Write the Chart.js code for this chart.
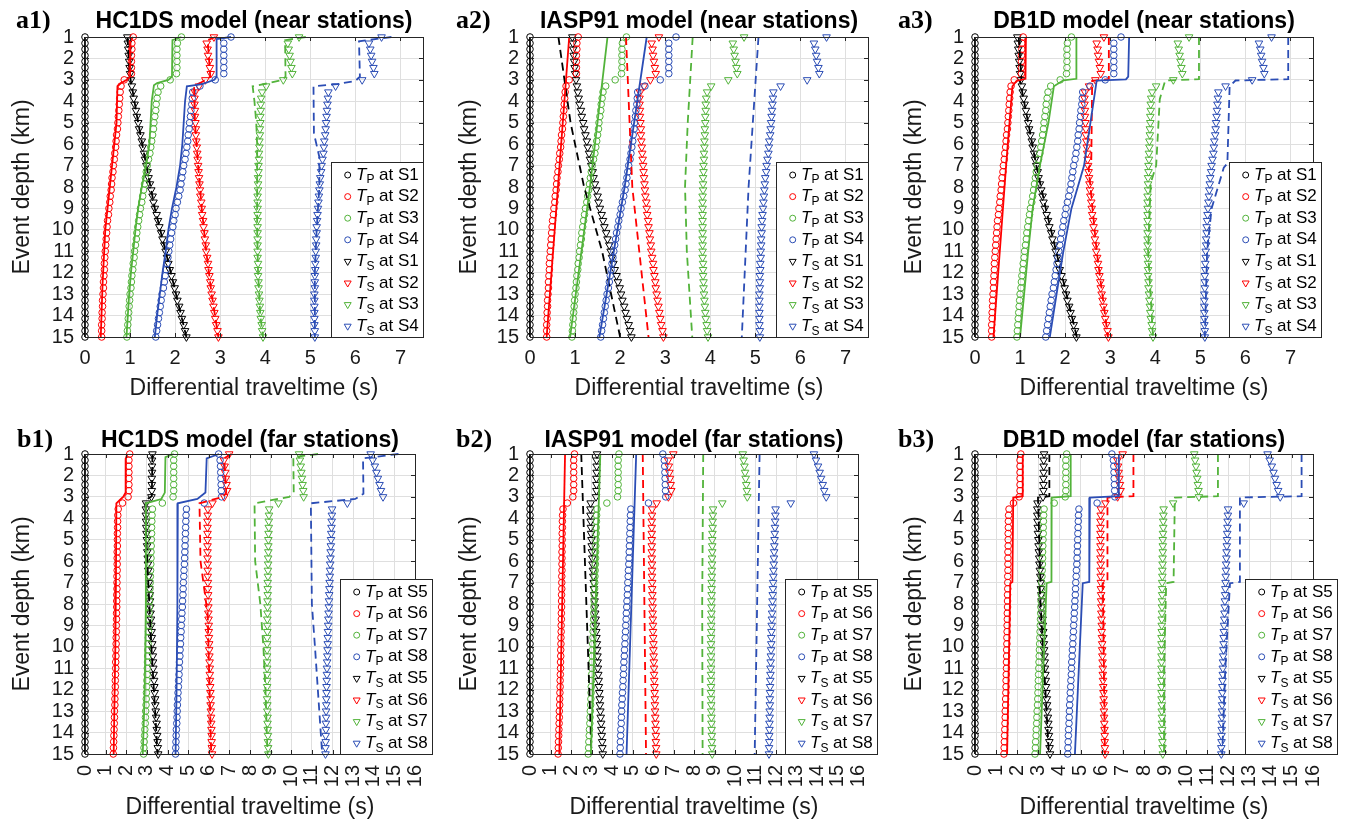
<!DOCTYPE html>
<html>
<head>
<meta charset="utf-8">
<script src="https://cdn.jsdelivr.net/npm/chart.js@4.4.0/dist/chart.umd.min.js"></script>
<style>
body { margin:0; background:#fff; width:1352px; height:821px; position:relative; overflow:hidden; }
canvas { position:absolute; }
</style>
</head>
<body>
<canvas id="a1" width="450" height="410" style="left:0px;top:0px"></canvas>
<canvas id="a2" width="443" height="410" style="left:450px;top:0px"></canvas>
<canvas id="a3" width="459" height="410" style="left:893px;top:0px"></canvas>
<canvas id="b1" width="450" height="411" style="left:0px;top:410px"></canvas>
<canvas id="b2" width="443" height="411" style="left:450px;top:410px"></canvas>
<canvas id="b3" width="459" height="411" style="left:893px;top:410px"></canvas>
<script>
// event depths (km) of the synthetic events
var depthKm = [1, 1.29, 1.57, 1.86, 2.14, 2.43, 2.71, 3, 3.29, 3.57, 3.86, 4.14, 4.43, 4.71, 5, 5.29, 5.57, 5.86, 6.14, 6.43,
  6.71, 7, 7.29, 7.57, 7.86, 8.14, 8.43, 8.71, 9, 9.29, 9.57, 9.86, 10.14, 10.43, 10.71, 11, 11.29, 11.57, 11.86, 12.14,
  12.43, 12.71, 13, 13.29, 13.57, 13.86, 14.14, 14.43, 14.71, 15];

var yTicks = [1,2,3,4,5,6,7,8,9,10,11,12,13,14,15];
var xTicksNear = [0,1,2,3,4,5,6,7];
var xTicksFar = [0,1,2,3,4,5,6,7,8,9,10,11,12,13,14,15,16];
var nearStations = ['S1','S2','S3','S4'];
var farStations = ['S5','S6','S7','S8'];

// observed differential traveltimes, near stations (s)
var nearTP1 = [0,0,0,0,0,0,0,0,0,0,0,0,0,0,0,0,0,0,0,0,0,0,0,0,0,0,0,0,0,0,0,0,0,0,0,0,0,0,0,0,0,0,0,0,0,0,0,0,0,0];
var nearTP2 = [1.07,1.04,1.04,1.03,1.03,1.03,1.03,0.87,0.80,0.78,0.77,0.76,0.75,0.74,0.73,0.72,0.70,0.69,0.68,0.66,
  0.65,0.63,0.62,0.60,0.59,0.58,0.56,0.55,0.53,0.52,0.50,0.49,0.48,0.47,0.46,0.45,0.44,0.43,0.43,0.42,
  0.41,0.41,0.40,0.39,0.39,0.38,0.38,0.37,0.37,0.37];
var nearTP3 = [2.14,2.05,2.04,2.04,2.04,2.04,2.03,1.89,1.68,1.62,1.60,1.58,1.57,1.55,1.53,1.52,1.50,1.48,1.46,1.44,
  1.41,1.38,1.36,1.34,1.32,1.30,1.28,1.26,1.23,1.21,1.19,1.17,1.15,1.14,1.12,1.10,1.09,1.07,1.06,1.04,
  1.03,1.02,1.00,0.99,0.98,0.97,0.96,0.95,0.94,0.93];
var nearTP4 = [3.24,3.08,3.08,3.08,3.08,3.08,3.08,2.89,2.55,2.39,2.38,2.37,2.35,2.34,2.32,2.31,2.29,2.28,2.26,2.24,
  2.22,2.19,2.17,2.15,2.13,2.11,2.08,2.05,2.02,2.00,1.97,1.95,1.92,1.90,1.88,1.86,1.84,1.82,1.80,1.78,
  1.76,1.74,1.71,1.69,1.67,1.65,1.63,1.61,1.59,1.57];
var nearTS1 = [0.94,0.95,0.96,0.97,0.98,0.99,1.00,1.02,1.04,1.06,1.08,1.10,1.13,1.15,1.18,1.20,1.23,1.26,1.28,1.31,
  1.33,1.36,1.39,1.41,1.44,1.47,1.50,1.52,1.55,1.59,1.62,1.65,1.69,1.72,1.76,1.79,1.82,1.85,1.88,1.92,
  1.95,1.99,2.02,2.05,2.09,2.12,2.15,2.19,2.22,2.25];
var nearTS2 = [2.86,2.70,2.72,2.73,2.75,2.77,2.79,2.67,2.53,2.44,2.43,2.43,2.44,2.44,2.45,2.46,2.46,2.47,2.48,2.49,
  2.50,2.51,2.52,2.53,2.54,2.55,2.56,2.58,2.59,2.60,2.62,2.63,2.65,2.66,2.68,2.69,2.71,2.73,2.74,2.76,
  2.78,2.79,2.81,2.83,2.85,2.87,2.89,2.91,2.94,2.96];
var nearTS3 = [4.75,4.50,4.52,4.54,4.56,4.58,4.60,4.40,4.02,3.93,3.91,3.90,3.90,3.89,3.89,3.88,3.88,3.87,3.87,3.86,
  3.86,3.85,3.85,3.84,3.84,3.84,3.83,3.83,3.83,3.83,3.83,3.83,3.83,3.83,3.83,3.83,3.83,3.84,3.84,3.84,
  3.85,3.85,3.86,3.87,3.88,3.89,3.90,3.92,3.93,3.95];
var nearTS4 = [6.58,6.30,6.33,6.35,6.37,6.40,6.42,6.15,5.56,5.40,5.39,5.38,5.37,5.36,5.35,5.34,5.33,5.31,5.30,5.29,
  5.27,5.25,5.24,5.22,5.21,5.20,5.19,5.18,5.17,5.16,5.15,5.14,5.14,5.13,5.13,5.12,5.12,5.11,5.11,5.10,
  5.10,5.10,5.09,5.09,5.09,5.09,5.09,5.09,5.10,5.10];

// observed differential traveltimes, far stations (s)
var farTP5 = [0,0,0,0,0,0,0,0,0,0,0,0,0,0,0,0,0,0,0,0,0,0,0,0,0,0,0,0,0,0,0,0,0,0,0,0,0,0,0,0,0,0,0,0,0,0,0,0,0,0];
var farTP6 = [2.17,2.13,2.13,2.13,2.13,2.13,2.13,2.09,1.82,1.61,1.59,1.58,1.58,1.57,1.57,1.57,1.56,1.56,1.56,1.56,
  1.55,1.55,1.55,1.54,1.54,1.54,1.53,1.53,1.52,1.52,1.51,1.51,1.50,1.50,1.49,1.49,1.48,1.47,1.47,1.46,
  1.45,1.45,1.43,1.43,1.42,1.41,1.40,1.39,1.38,1.37];
var farTP7 = [4.34,4.30,4.30,4.30,4.30,4.30,4.30,4.27,3.75,3.27,3.25,3.24,3.23,3.23,3.22,3.21,3.20,3.20,3.19,3.18,
  3.17,3.16,3.15,3.14,3.13,3.12,3.11,3.10,3.09,3.08,3.07,3.06,3.05,3.04,3.03,3.02,3.01,3.00,2.99,2.98,
  2.97,2.96,2.94,2.93,2.92,2.90,2.89,2.87,2.86,2.84];
var farTP8 = [6.48,6.55,6.57,6.58,6.59,6.60,6.61,6.62,5.78,4.92,4.90,4.89,4.88,4.87,4.86,4.85,4.84,4.83,4.82,4.80,
  4.79,4.77,4.76,4.75,4.73,4.72,4.70,4.69,4.67,4.66,4.64,4.63,4.61,4.60,4.58,4.57,4.56,4.54,4.53,4.51,
  4.50,4.48,4.47,4.46,4.45,4.43,4.42,4.41,4.40,4.39];
var farTS5 = [3.27,3.25,3.25,3.25,3.24,3.24,3.24,3.22,2.96,2.95,2.95,2.96,2.97,2.98,3.00,3.01,3.02,3.04,3.05,3.07,
  3.09,3.11,3.12,3.14,3.15,3.17,3.18,3.20,3.21,3.23,3.24,3.26,3.27,3.29,3.30,3.31,3.33,3.35,3.36,3.38,
  3.40,3.41,3.43,3.45,3.47,3.48,3.50,3.52,3.53,3.55];
var farTS6 = [6.99,6.74,6.77,6.80,6.83,6.86,6.89,6.75,6.18,5.96,5.95,5.94,5.94,5.94,5.94,5.94,5.94,5.94,5.95,5.95,
  5.95,5.96,5.96,5.97,5.97,5.98,5.98,5.99,6.00,6.00,6.01,6.02,6.02,6.03,6.04,6.05,6.05,6.06,6.07,6.08,
  6.09,6.09,6.10,6.11,6.12,6.13,6.14,6.14,6.15,6.16];
var farTS7 = [10.38,10.42,10.46,10.49,10.52,10.55,10.58,10.60,9.38,8.93,8.92,8.91,8.91,8.90,8.89,8.89,8.89,8.88,8.88,8.87,
  8.87,8.86,8.86,8.86,8.85,8.85,8.85,8.84,8.84,8.84,8.83,8.83,8.83,8.83,8.83,8.83,8.83,8.83,8.83,8.83,
  8.83,8.84,8.84,8.85,8.85,8.86,8.87,8.87,8.88,8.89];
var farTS8 = [13.85,13.95,14.05,14.13,14.20,14.28,14.35,14.45,12.72,11.98,11.97,11.96,11.95,11.94,11.93,11.92,11.91,11.90,11.89,11.88,
  11.87,11.86,11.85,11.84,11.83,11.82,11.81,11.80,11.79,11.78,11.77,11.77,11.76,11.75,11.74,11.73,11.73,11.72,11.71,11.71,
  11.70,11.70,11.69,11.69,11.68,11.68,11.67,11.67,11.66,11.66];

// model curves, [traveltime (s), depth (km)]
var hcNearP = [
  [[0,1],[0,15]],
  [[1.07,1],[1.01,1.15],[1.0,2.85],[0.93,3.0],[0.80,3.15],[0.72,3.3],[0.70,5],[0.60,7],[0.45,10],[0.39,12.5],[0.35,15]],
  [[2.14,1],[1.94,1.15],[1.93,2.85],[1.85,3.0],[1.6,3.15],[1.53,3.25],[1.48,4],[1.43,6],[1.34,7.2],[1.26,8],[1.18,9],[1.12,10],[1.07,11],[1.02,12],[0.98,13],[0.95,14],[0.92,15]],
  [[3.24,1],[2.92,1.1],[2.92,2.85],[2.87,3.0],[2.6,3.2],[2.26,3.3],[2.22,4],[2.16,6],[2.11,7],[2.03,8],[1.93,9],[1.85,10],[1.79,11],[1.72,12],[1.66,13],[1.6,14],[1.55,15]]
];
var hcNearS = [
  [[0.94,1],[1.0,2.85],[1.03,3.2],[1.18,5],[1.36,7],[1.55,9],[1.79,11],[2.02,13],[2.25,15]],
  [[2.9,1],[2.72,1.15],[2.78,2.85],[2.68,3.0],[2.42,3.3],[2.44,5],[2.51,7],[2.59,9],[2.69,11],[2.81,13],[2.96,15]],
  [[4.9,1],[4.44,1.15],[4.45,2.85],[4.38,3.0],[4.08,3.15],[3.72,3.3],[3.76,4],[3.80,5],[3.82,6],[3.82,8],[3.82,10],[3.84,12],[3.89,14],[3.95,15]],
  [[6.8,1],[6.08,1.2],[6.1,2.85],[6.0,3.05],[5.6,3.2],[5.07,3.3],[5.08,5.5],[5.2,6.6],[5.2,8],[5.14,10],[5.1,12],[5.1,15]]
];
var iaNearP = [
  [[0,1],[0,15]],
  [[0.87,1],[0.37,15]],
  [[1.72,1],[1.33,8],[0.89,15]],
  [[2.59,1],[2.10,8],[1.54,15]]
];
var iaNearS = [
  [[0.63,1],[0.9,5],[1.2,8],[1.6,11],[2.0,15]],
  [[2.13,1],[2.27,8],[2.63,15]],
  [[3.61,1],[3.5,5],[3.44,8],[3.48,11],[3.6,15]],
  [[5.07,1],[4.85,8],[4.7,15]]
];
var dbNearP = [
  [[0,1],[0,15]],
  [[1.13,1],[1.12,2.95],[0.92,3.05],[0.83,3.3],[0.69,7],[0.41,15]],
  [[2.25,1],[2.25,2.95],[1.96,3.02],[1.75,3.3],[1.63,5],[1.44,7],[1.28,9],[1.18,11],[1.09,13],[1.0,15]],
  [[3.42,1],[3.40,2.85],[3.35,2.98],[2.70,3.03],[2.42,7],[2.14,9],[1.96,11],[1.81,13],[1.66,15]]
];
var dbNearS = [
  [[0.97,1],[1.03,2.95],[1.0,3.05],[1.18,5],[1.36,7],[1.57,9],[1.8,11],[2.03,13],[2.26,15]],
  [[2.97,1],[2.97,2.97],[2.6,3.05],[2.58,6.9],[2.52,7.1],[2.7,11],[2.95,15]],
  [[4.97,1],[4.97,2.97],[4.22,3.03],[4.1,3.9],[4.02,7],[3.9,7.8],[3.84,11],[3.95,15]],
  [[6.95,1],[6.95,2.97],[5.78,3.03],[5.65,3.3],[5.6,6.9],[5.52,7.1],[5.25,9],[5.15,11],[5.1,15]]
];
var hcFarP = [
  [[0,1],[0,15]],
  [[2.05,1],[1.98,1.2],[1.97,2.8],[1.85,3.0],[1.74,3.1],[1.52,3.3],[1.5,7],[1.47,10],[1.39,15]],
  [[4.3,1],[3.9,1.15],[3.87,2.8],[3.7,3.1],[2.95,3.3],[2.95,8],[2.9,12],[2.8,15]],
  [[6.5,1],[5.9,1.2],[5.84,2.8],[5.45,3.1],[4.5,3.3],[4.48,8],[4.44,12],[4.39,15]]
];
var hcFarS = [
  [[3.27,1],[3.24,2.97],[2.93,3.15],[2.97,5],[3.22,10],[3.52,15]],
  [[7.1,1],[6.75,1.2],[6.85,2.8],[6.7,3.0],[5.55,3.3],[5.6,6],[5.95,8.5],[6.12,15]],
  [[11.3,1],[10.1,1.15],[10.12,2.8],[9.9,3.0],[8.22,3.3],[8.25,6],[8.5,8],[8.65,10],[8.75,12],[8.85,15]],
  [[15.2,1],[13.48,1.2],[13.5,2.85],[13.1,3.1],[10.95,3.3],[11.0,8],[11.15,10],[11.5,15]]
];
var iaFarP = [
  [[0,1],[0,15]],
  [[1.71,1],[1.43,15]],
  [[3.43,1],[2.97,15]],
  [[5.18,1],[4.71,15]]
];
var iaFarS = [
  [[2.5,1],[3.0,15]],
  [[5.5,1],[5.66,15]],
  [[8.45,1],[8.4,8],[8.42,15]],
  [[11.2,1],[10.96,15]]
];
var dbFarP = [
  [[0,1],[0,15]],
  [[2.26,1],[2.26,2.97],[1.81,3.03],[1.77,6.97],[1.67,7.03],[1.52,15]],
  [[4.53,1],[4.53,2.97],[3.63,3.03],[3.62,6.97],[3.39,7.03],[3.08,15]],
  [[6.81,1],[6.81,2.97],[5.44,3.03],[5.41,6.97],[5.1,7.03],[4.73,15]]
];
var dbFarS = [
  [[3.52,1],[3.52,2.97],[2.98,3.03],[3.1,6.97],[3.05,7.03],[3.5,15]],
  [[7.5,1],[7.5,2.97],[6.27,3.03],[6.27,6.97],[6.05,7.03],[6.15,15]],
  [[11.5,1],[11.5,2.97],[9.46,3.03],[9.4,6.97],[9.05,7.03],[8.95,11],[8.95,15]],
  [[15.46,1],[15.46,2.97],[12.54,3.03],[12.54,6.97],[12.07,7.03],[11.85,11],[11.7,15]]
];

var colors = ['#000000', '#ff0000', '#52b33a', '#2b4db5'];
var FONT = '"Liberation Sans", Arial, Helvetica, sans-serif';
var ink = '#1a1a1a';

var nearObsP = [nearTP1, nearTP2, nearTP3, nearTP4];
var nearObsS = [nearTS1, nearTS2, nearTS3, nearTS4];
var farObsP = [farTP5, farTP6, farTP7, farTP8];
var farObsS = [farTS5, farTS6, farTS7, farTS8];

var panels = [
  {id:'a1', label:'a1)', title:'HC1DS model (near stations)', far:false, modP:hcNearP, modS:hcNearS, padL:9, padR:27, legDx:246},
  {id:'a2', label:'a2)', title:'IASP91 model (near stations)', far:false, modP:iaNearP, modS:iaNearS, padL:6, padR:25, legDx:246},
  {id:'a3', label:'a3)', title:'DB1D model (near stations)', far:false, modP:dbNearP, modS:dbNearS, padL:8, padR:39, legDx:254},
  {id:'b1', label:'b1)', title:'HC1DS model (far stations)', far:true, modP:hcFarP, modS:hcFarS, padL:9, padR:27, legDx:255},
  {id:'b2', label:'b2)', title:'IASP91 model (far stations)', far:true, modP:iaFarP, modS:iaFarS, padL:6, padR:25, legDx:255},
  {id:'b3', label:'b3)', title:'DB1D model (far stations)', far:true, modP:dbFarP, modS:dbFarS, padL:8, padR:39, legDx:270}
];
var areaLeft = {a1:85, a2:80, a3:82, b1:85, b2:80, b3:82};
var labelX = {a1:16, a2:6, a3:5, b1:17, b2:6, b3:5};

function markerSet(vals, color, style) {
  return {
    data: depthKm.map(function(d, i) { return {x: vals[i], y: d}; }),
    showLine: false, pointStyle: style,
    pointRadius: style === 'circle' ? 3.3 : 4.4,
    pointRotation: style === 'circle' ? 0 : 180,
    pointBorderColor: color, pointBackgroundColor: 'rgba(0,0,0,0)', pointBorderWidth: 1,
    borderColor: color, clip: false, order: 1
  };
}
function curveSet(pts, color, dash) {
  return {
    data: pts.map(function(p) { return {x: p[0], y: p[1]}; }),
    showLine: true, pointRadius: 0, borderColor: color, borderWidth: 1.8,
    borderDash: dash, fill: false, tension: 0, clip: false, order: 0
  };
}

function drawLegendText(ctx, x, y, sub, st) {
  ctx.font = 'italic 17px ' + FONT;
  ctx.fillText('T', x, y);
  var w = ctx.measureText('T').width;
  ctx.font = '12px ' + FONT;
  ctx.fillText(sub, x + w, y + 5);
  w += ctx.measureText(sub).width;
  ctx.font = '17px ' + FONT;
  ctx.fillText(' at ' + st, x + w, y);
}

var decor = {
  id: 'decor',
  afterDatasetsDraw: function(chart) {
    var p = chart.options.plugins.decor;
    var ctx = chart.ctx, a = chart.chartArea;
    var xs = chart.scales.x, ys = chart.scales.y;
    ctx.save();
    // box and inner ticks
    ctx.strokeStyle = '#262626';
    ctx.lineWidth = 1;
    ctx.strokeRect(Math.round(a.left) + 0.5, Math.round(a.top) + 0.5, Math.round(a.right - a.left), Math.round(a.bottom - a.top));
    ctx.beginPath();
    p.xt.forEach(function(v) {
      var px = Math.round(xs.getPixelForValue(v)) + 0.5;
      ctx.moveTo(px, a.top); ctx.lineTo(px, a.top + 4);
      ctx.moveTo(px, a.bottom); ctx.lineTo(px, a.bottom - 4);
    });
    yTicks.forEach(function(v) {
      var py = Math.round(ys.getPixelForValue(v)) + 0.5;
      ctx.moveTo(a.left, py); ctx.lineTo(a.left + 4, py);
      ctx.moveTo(a.right, py); ctx.lineTo(a.right - 4, py);
    });
    ctx.stroke();

    // legend
    var lx = a.left + p.legDx, ly = a.top + 125, lw = 92, lh = a.bottom - ly;
    ctx.fillStyle = '#fff';
    ctx.fillRect(lx, ly, lw, lh);
    ctx.strokeStyle = '#262626';
    ctx.strokeRect(Math.round(lx) + 0.5, Math.round(ly) + 0.5, lw, Math.round(lh));
    ctx.textBaseline = 'middle';
    ctx.textAlign = 'left';
    var rows = [];
    p.st.forEach(function(s, i) { rows.push({sub:'P', st:s, c:colors[i], style:'circle'}); });
    p.st.forEach(function(s, i) { rows.push({sub:'S', st:s, c:colors[i], style:'triangle'}); });
    rows.forEach(function(r, i) {
      var cy = ly + 13 + i * 21.6;
      ctx.strokeStyle = r.c;
      ctx.fillStyle = 'rgba(0,0,0,0)';
      ctx.lineWidth = 1;
      Chart.helpers.drawPoint(ctx, {pointStyle: r.style, rotation: r.style === 'circle' ? 0 : 180,
        radius: r.style === 'circle' ? 3 : 4, borderWidth: 1}, lx + 16.7, cy);
      ctx.fillStyle = '#000';
      drawLegendText(ctx, lx + 25, cy, r.sub, r.st);
    });

    // title and panel label
    ctx.fillStyle = '#000';
    ctx.textBaseline = 'alphabetic';
    ctx.textAlign = 'center';
    ctx.font = 'bold 23px ' + FONT;
    ctx.fillText(p.title, (a.left + a.right) / 2, a.top - p.titleUp);
    ctx.textAlign = 'left';
    ctx.font = 'bold 26px "Liberation Serif", "Times New Roman", serif';
    ctx.fillText(p.label, p.labelX, a.top - p.titleUp);
    ctx.restore();
  }
};

panels.forEach(function(p) {
  var obsP = p.far ? farObsP : nearObsP;
  var obsS = p.far ? farObsS : nearObsS;
  var xt = p.far ? xTicksFar : xTicksNear;
  var xMax = p.far ? 16 : 7.5;
  var datasets = [];
  obsP.forEach(function(v, i) { datasets.push(markerSet(v, colors[i], 'circle')); });
  obsS.forEach(function(v, i) { datasets.push(markerSet(v, colors[i], 'triangle')); });
  p.modP.forEach(function(c, i) { datasets.push(curveSet(c, colors[i], [])); });
  p.modS.forEach(function(c, i) { datasets.push(curveSet(c, colors[i], [8, 5])); });

  var topPad = p.far ? 44 : 37;
  var xAxisH = p.far ? 67 : 65;
  var botPad = p.far ? 0 : 8;
  var yAxisW = areaLeft[p.id] - p.padL;
  var rot = p.far ? 90 : 0;

  new Chart(document.getElementById(p.id), {
    type: 'scatter',
    data: { datasets: datasets },
    options: {
      responsive: false,
      animation: false,
      events: [],
      layout: { padding: { left: p.padL, right: p.padR, top: topPad, bottom: botPad } },
      plugins: {
        legend: { display: false },
        tooltip: { enabled: false },
        decor: { xt: xt, st: p.far ? farStations : nearStations, legDx: p.legDx,
          title: p.title, label: p.label, labelX: labelX[p.id], titleUp: p.far ? 7 : 9 }
      },
      scales: {
        x: {
          type: 'linear', position: 'bottom', min: 0, max: xMax,
          afterBuildTicks: function(s) { s.ticks = xt.map(function(v) { return {value: v}; }); },
          afterFit: function(s) { s.height = xAxisH; },
          grid: { color: '#dfdfdf', drawTicks: false },
          border: { display: false },
          ticks: { font: { size: 20, family: FONT }, color: ink, padding: p.far ? 11 : 9,
            autoSkip: false, minRotation: rot, maxRotation: rot },
          title: { display: true, text: 'Differential traveltime (s)', color: ink,
            font: { size: 23, family: FONT }, padding: 0 }
        },
        y: {
          type: 'linear', position: 'left', min: 1, max: 15, reverse: true,
          afterBuildTicks: function(s) { s.ticks = yTicks.map(function(v) { return {value: v}; }); },
          afterFit: function(s) { s.width = yAxisW; },
          grid: { color: '#dfdfdf', drawTicks: false },
          border: { display: false },
          ticks: { font: { size: 20, family: FONT }, color: ink, padding: 11, autoSkip: false },
          title: { display: true, text: 'Event depth (km)', color: ink,
            font: { size: 23, family: FONT }, padding: 0 }
        }
      }
    },
    plugins: [decor]
  });
});
</script>
</body>
</html>
